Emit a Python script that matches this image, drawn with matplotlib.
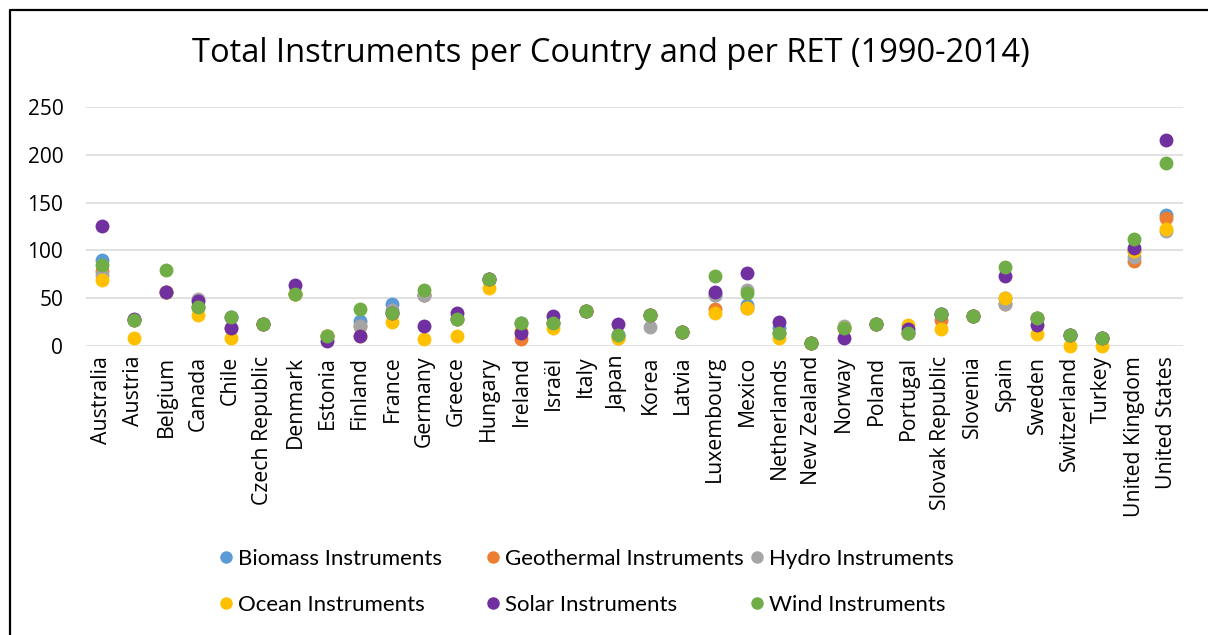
import matplotlib
matplotlib.use("Agg")
import matplotlib.pyplot as plt
import matplotlib.transforms as mtransforms
from matplotlib.lines import Line2D

countries = ["Australia", "Austria", "Belgium", "Canada", "Chile", "Czech Republic",
             "Denmark", "Estonia", "Finland", "France", "Germany", "Greece", "Hungary",
             "Ireland", "Israël", "Italy", "Japan", "Korea", "Latvia", "Luxembourg",
             "Mexico", "Netherlands", "New Zealand", "Norway", "Poland", "Portugal",
             "Slovak Republic", "Slovenia", "Spain", "Sweden", "Switzerland", "Turkey",
             "United Kingdom", "United States"]

biomass =    [90, 27, 56, 41, 30, 23, 54, 10, 26, 44, 53, 28, 70, 24, 24, 37, 11, 32, 15, 53,
              43, 19, 3, 19, 23, 14, 33, 31, 50, 29, 12, 8, 99, 137]
geothermal = [78, 27, 56, 41, 19, 23, 54, 10, 21, 34, 53, 28, 70, 7, 24, 37, 8, 32, 15, 39,
              40, 14, 3, 19, 23, 14, 27, 31, 44, 29, 12, 8, 89, 134]
hydro =      [74, 27, 56, 49, 30, 23, 54, 10, 21, 38, 53, 28, 69, 24, 24, 37, 11, 20, 15, 53,
              59, 14, 3, 21, 23, 14, 33, 31, 44, 29, 12, 8, 93, 120]
ocean =      [69, 8, 56, 32, 8, 23, 54, 10, 10, 25, 7, 10, 61, 16, 19, 37, 8, 32, 15, 34,
              40, 8, 3, 19, 23, 22, 18, 31, 50, 13, 0, 0, 99, 122]
solar =      [126, 28, 56, 47, 19, 23, 64, 5, 10, 34, 21, 34, 70, 14, 31, 37, 23, 32, 15, 57,
              76, 25, 3, 8, 23, 18, 33, 31, 73, 22, 12, 8, 102, 215]
wind =       [85, 27, 80, 41, 30, 23, 54, 10, 39, 34, 59, 28, 70, 24, 24, 37, 11, 32, 15, 73,
              55, 14, 3, 19, 23, 14, 33, 31, 83, 29, 12, 8, 112, 191]

series_names = ["Biomass Instruments", "Geothermal Instruments", "Hydro Instruments",
                "Ocean Instruments", "Solar Instruments", "Wind Instruments"]
series_values = [biomass, geothermal, hydro, ocean, solar, wind]
colors = ["#5B9BD5", "#ED7D31", "#A5A5A5", "#FFC000", "#7030A0", "#70AD47"]

fig = plt.figure(figsize=(12.08, 6.35), dpi=100)
ax = fig.add_axes([85.5 / 1208, 1 - 346 / 635, (1182.5 - 85.5) / 1208, (346 - 107) / 635])

x = list(range(len(countries)))
for vals, col, name in zip(series_values, colors, series_names):
    ax.plot(x, vals, linestyle="none", marker="o", markersize=10, color=col,
            markeredgewidth=0, label=name, clip_on=False, zorder=3)

ax.set_xlim(-0.5, len(countries) - 0.5)
ax.set_ylim(0, 250)
ax.set_yticks([0, 50, 100, 150, 200, 250])
ax.set_xticks(x)
ax.set_xticklabels(countries, rotation=90, fontfamily="Open Sans", fontsize=15.3)
# nudge the rotated category labels slightly right
shift = mtransforms.ScaledTranslation(3 / 100, 0, fig.dpi_scale_trans)
for lbl in ax.get_xticklabels():
    lbl.set_transform(lbl.get_transform() + shift)
for lbl in ax.get_yticklabels():
    lbl.set_fontfamily("Open Sans")
    lbl.set_fontsize(15)
ax.tick_params(axis="both", length=0)
ax.tick_params(axis="y", pad=16)
ax.tick_params(axis="x", pad=7)
ax.yaxis.grid(True, color="#D9D9D9", linewidth=1.1)
ax.set_axisbelow(True)
for sp in ax.spines.values():
    sp.set_visible(False)

fig.text(611 / 1208, 1 - 54 / 635, "Total Instruments per Country and per RET (1990-2014)",
         ha="center", va="center", fontsize=23.5, fontfamily="Open Sans")

# legend: three columns of two entries
handles = [Line2D([], [], linestyle="none", marker="o", markersize=9, color=c,
                  markeredgewidth=0) for c in colors]
col_x = [219.3, 486.3, 750.3]
for i, cx in enumerate(col_x):
    fig.legend([handles[i], handles[i + 3]], [series_names[i], series_names[i + 3]],
               loc="upper left", bbox_to_anchor=(cx / 1208, 1 - 549 / 635),
               frameon=False, borderpad=0, borderaxespad=0, handlelength=0.6,
               handletextpad=0.24, labelspacing=1.16,
               prop={"family": "Lato", "size": 16})

# chart frame
fig.add_artist(Line2D([10 / 1208, 10 / 1208, 1.0], [0.0, 1 - 10 / 635, 1 - 10 / 635],
                      transform=fig.transFigure, color="black", linewidth=1.6))

fig.savefig("out.png", dpi=100, facecolor="white")
